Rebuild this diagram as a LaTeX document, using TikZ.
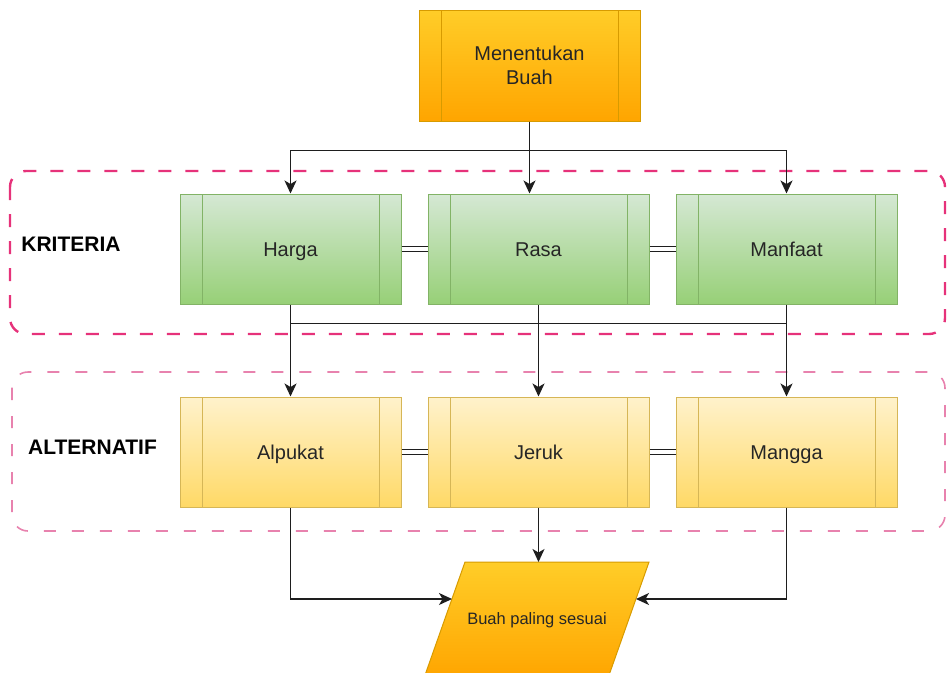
\documentclass[tikz,border=0pt]{standalone}
\usepackage{fontspec}
\setmainfont{Liberation Sans}
\usetikzlibrary{arrows.meta,calc}
\definecolor{orT}{HTML}{FFCD28}
\definecolor{orB}{HTML}{FFA500}
\definecolor{orD}{HTML}{D79B00}
\definecolor{grT}{HTML}{D5E8D4}
\definecolor{grB}{HTML}{97D077}
\definecolor{grD}{HTML}{82B366}
\definecolor{yeT}{HTML}{FFF2CC}
\definecolor{yeB}{HTML}{FFD966}
\definecolor{yeD}{HTML}{D6B656}
\definecolor{pinkA}{HTML}{E6327A}
\definecolor{pinkB}{HTML}{E882AE}
\definecolor{txt}{HTML}{262626}
\definecolor{wire}{HTML}{1E1E1E}
\begin{document}
\begin{tikzpicture}[x=1pt,y=-1pt,
  procbox/.style={draw=#1, line width=1pt, minimum width=221pt, minimum height=110pt,
    inner sep=0pt, align=center, text=txt, font=\fontsize{20}{24.5}\selectfont,
    path picture={\draw[#1, line width=1pt]
      ([xshift=22pt]path picture bounding box.north west) -- ([xshift=22pt]path picture bounding box.south west)
      ([xshift=-22pt]path picture bounding box.north east) -- ([xshift=-22pt]path picture bounding box.south east);}},
  oneline/.style={text height=14.3pt, text depth=0pt},
  orangebox/.style={procbox=orD, top color=orT, bottom color=orB},
  greenbox/.style={procbox=grD, top color=grT, bottom color=grB, oneline},
  yellowbox/.style={procbox=yeD, top color=yeT, bottom color=yeB, oneline},
  grouplabel/.style={font=\bfseries\fontsize{21}{25}\selectfont, text=black},
  critgroup/.style={draw=pinkA, line width=2.4pt, dash pattern=on 13pt off 14pt, rounded corners=16pt},
  altgroup/.style={draw=pinkB, line width=1.6pt, dash pattern=on 12pt off 16pt, rounded corners=16pt},
  conn/.style={draw=wire, line width=1.4pt},
  arr/.style={conn, -{Stealth[length=13pt, width=12pt, inset=3.5pt]}},
  eqline/.style={draw=wire, line width=1.2pt, double=white, double distance=4pt}
]
\useasboundingbox (0,0) rectangle (947,672);
\clip (0,0) rectangle (947,672);

% group frames
\draw[critgroup] (10,171) rectangle (945,334);
\draw[altgroup] (12,372) rectangle (945,531);
\node[grouplabel] (kri) at (71,244) {KRITERIA};
\node[grouplabel] (alt) at (92.5,447) {ALTERNATIF};

% boxes
\node[orangebox, minimum height=111pt] (top) at (529.5,65.5) {Menentukan\\Buah};
\node[greenbox] (harga) at (290.5,249) {Harga};
\node[greenbox] (rasa) at (538.5,249) {Rasa};
\node[greenbox] (manfaat) at (786.5,249) {Manfaat};
\node[yellowbox] (alp) at (290.5,452) {Alpukat};
\node[yellowbox] (jeruk) at (538.5,452) {Jeruk};
\node[yellowbox] (mangga) at (786.5,452) {Mangga};

% output parallelogram
\path[draw=orD, line width=1pt, top color=orT, bottom color=orB]
  (465,562) -- (649,562) -- (608,678) -- (424,678) -- cycle;
\node[text=txt, font=\fontsize{16.5}{20}\selectfont] (buah) at (537,620) {Buah paling sesuai};
\coordinate (ptop) at (538.5,562);
\coordinate (pleft) at (452,599);
\coordinate (pright) at (636,599);

% top fan-out
\coordinate (j1) at ($(top.south)+(0,29)$);
\draw[conn] (top.south) -- (j1);
\draw[arr] (j1) -| (harga.north);
\draw[arr] (j1) -| (manfaat.north);
\draw[arr] (top.south) -- (top.south |- rasa.north);

% equal links
\draw[eqline] (harga.east) -- (rasa.west);
\draw[eqline] (rasa.east) -- (manfaat.west);
\draw[eqline] (alp.east) -- (jeruk.west);
\draw[eqline] (jeruk.east) -- (mangga.west);

% criteria to alternatives
\coordinate (hb) at ($(harga.south)+(0,19)$);
\coordinate (mb) at ($(manfaat.south)+(0,19)$);
\draw[conn] (hb) -- (mb);
\draw[arr] (harga.south) -- (alp.north);
\draw[arr] (rasa.south) -- (jeruk.north);
\draw[arr] (manfaat.south) -- (mangga.north);

% alternatives to output
\draw[arr] (jeruk.south) -- (ptop);
\draw[arr] (alp.south) |- (pleft);
\draw[arr] (mangga.south) |- (pright);
\end{tikzpicture}
\end{document}
